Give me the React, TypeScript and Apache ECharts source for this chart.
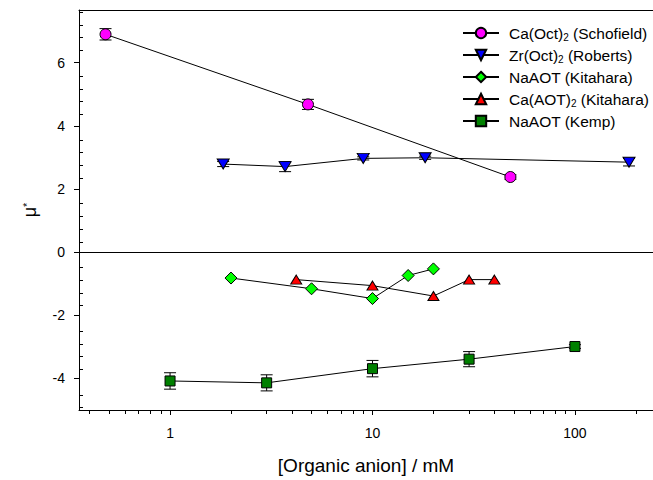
import React, { useEffect, useRef } from "react";
import * as echarts from "echarts";

// ---- data ----
const schofieldX = [0.48, 4.8, 48];
const schofieldY = [6.9, 4.68, 2.38];
const schofieldErr = [0.18, 0.16, 0.07];

const robertsX = [1.83, 3.7, 9.0, 18.2, 185];
const robertsY = [2.79, 2.71, 2.97, 2.99, 2.85];
const robertsErr = [0.08, 0.16, 0.05, 0.05, 0.12];

const kitaharaNaX = [2, 5, 10, 15, 20];
const kitaharaNaY = [-0.82, -1.16, -1.47, -0.74, -0.53];

const kitaharaCaX = [4.2, 10, 20, 30, 40];
const kitaharaCaY = [-0.87, -1.06, -1.39, -0.87, -0.87];

const kempX = [1, 3, 10, 30, 100];
const kempY = [-4.08, -4.14, -3.69, -3.39, -2.99];
const kempErr = [0.26, 0.255, 0.26, 0.24, 0.06];

const seriesNames = [
  "Ca(Oct)2 (Schofield)",
  "Zr(Oct)2 (Roberts)",
  "NaAOT (Kitahara)",
  "Ca(AOT)2 (Kitahara)",
  "NaAOT (Kemp)",
];

const xMajorTicks = [1, 10, 100];
const xMinorTicks = [0.4, 0.5, 0.6, 0.7, 0.8, 0.9, 2, 3, 4, 5, 6, 7, 8, 9, 20, 30, 40, 50, 60, 70, 80, 90, 200];
const yMajorTicks = [-4, -2, 0, 2, 4, 6];
const yMinorTicks = [-4.8, -4.4, -3.6, -3.2, -2.8, -2.4, -1.6, -1.2, -0.8, -0.4, 0.4, 0.8, 1.2, 1.6, 2.4, 2.8, 3.2, 3.6, 4.4, 4.8, 5.2, 5.6, 6.4, 6.8, 7.2, 7.6];

const X_MIN = 0.355;
const X_MAX = 243;
const Y_MIN = -5;
const Y_MAX = 7.67;

const FONT = "Liberation Sans";

const zip = (xs: number[], ys: number[]) => xs.map((x, i) => [x, ys[i]]);
const errData = (xs: number[], ys: number[], es: number[]) =>
  xs.map((x, i) => [x, ys[i] - es[i], ys[i] + es[i]]);

const GRID = { left: 79, top: 10, right: 0, bottom: 66 };

export default function App() {
  const ref = useRef<HTMLDivElement>(null);
  useEffect(() => {
    if (!ref.current) return;
    const chart = echarts.init(ref.current, undefined, { renderer: "svg" });

    const lineSeries = (
      name: string,
      data: number[][],
      symbol: string,
      size: number | number[],
      color: string
    ) => ({
      name,
      type: "line",
      xAxisIndex: 0,
      yAxisIndex: 0,
      data,
      symbol,
      symbolSize: size,
      showAllSymbol: true,
      z: 3,
      lineStyle: { color: "#000", width: 1 },
      itemStyle: { color, borderColor: "#000", borderWidth: 1 },
      emphasis: { disabled: true },
    });

    const errorSeries = {
      name: "errors",
      type: "custom",
      xAxisIndex: 0,
      yAxisIndex: 0,
      z: 2,
      silent: true,
      encode: { x: 0, y: [1, 2] },
      data: [
        ...errData(schofieldX, schofieldY, schofieldErr),
        ...errData(robertsX, robertsY, robertsErr),
        ...errData(kempX, kempY, kempErr),
      ],
      renderItem: (params: any, api: any) => {
        const x = api.value(0);
        const lo = api.coord([x, api.value(1)]);
        const hi = api.coord([x, api.value(2)]);
        const w = 6;
        const st = { stroke: "#000", lineWidth: 1 };
        return {
          type: "group",
          children: [
            { type: "line", shape: { x1: lo[0], y1: lo[1], x2: hi[0], y2: hi[1] }, style: st },
            { type: "line", shape: { x1: lo[0] - w, y1: lo[1], x2: lo[0] + w, y2: lo[1] }, style: st },
            { type: "line", shape: { x1: hi[0] - w, y1: hi[1], x2: hi[0] + w, y2: hi[1] }, style: st },
          ],
        };
      },
    };

    const axisLineStyle = { color: "#000", width: 1 };

    const option: any = {
      animation: false,
      textStyle: { fontFamily: FONT, color: "#000" },
      grid: [
        { ...GRID },
        { ...GRID },
      ],
      legend: {
        orient: "vertical",
        left: 462,
        top: 24,
        padding: 0,
        itemWidth: 36,
        itemHeight: 13,
        itemGap: 4,
        data: seriesNames,
        selectedMode: false,
        textStyle: {
          fontFamily: FONT,
          fontSize: 15.5,
          color: "#000",
          lineHeight: 18,
          padding: [0, 0, 0, 5],
          rich: {
            s: { fontFamily: FONT, fontSize: 10, lineHeight: 10, verticalAlign: "bottom", color: "#000" },
          },
        },
        formatter: (name: string) => name.replace(")2", "){s|2}"),
      },
      xAxis: [
        {
          gridIndex: 0,
          type: "log",
          position: "bottom",
          min: X_MIN,
          max: X_MAX,
          axisLine: { show: true, onZero: false, lineStyle: axisLineStyle },
          axisTick: { show: true, inside: false, length: 5, customValues: xMajorTicks, lineStyle: axisLineStyle },
          axisLabel: { customValues: xMajorTicks, fontSize: 14, margin: 16, color: "#000", fontFamily: FONT },
          splitLine: { show: false },
          minorTick: { show: false },
          name: "[Organic anion] / mM",
          nameLocation: "middle",
          nameGap: 46,
          nameTextStyle: { fontSize: 19, color: "#000", fontFamily: FONT },
        },
        {
          gridIndex: 0,
          type: "log",
          position: "top",
          min: X_MIN,
          max: X_MAX,
          axisLine: { show: true, onZero: false, lineStyle: axisLineStyle },
          axisTick: { show: false },
          axisLabel: { show: false },
          splitLine: { show: false },
        },
        {
          gridIndex: 1,
          type: "log",
          position: "bottom",
          min: X_MIN,
          max: X_MAX,
          axisLine: { show: false, onZero: false },
          axisTick: { show: true, inside: true, length: 4, customValues: xMinorTicks, lineStyle: axisLineStyle },
          axisLabel: { show: false },
          splitLine: { show: false },
        },
      ],
      yAxis: [
        {
          gridIndex: 0,
          type: "value",
          position: "left",
          min: Y_MIN,
          max: Y_MAX,
          axisLine: { show: true, onZero: false, lineStyle: axisLineStyle },
          axisTick: { show: true, inside: false, length: 5, customValues: yMajorTicks, lineStyle: axisLineStyle },
          axisLabel: { customValues: yMajorTicks, fontSize: 14, margin: 14, color: "#000", fontFamily: FONT },
          splitLine: { show: false },
          name: "μ{s|*}",
          nameLocation: "middle",
          nameGap: 40,
          nameTextStyle: {
            fontSize: 18,
            color: "#000",
            fontFamily: FONT,
            rich: { s: { fontSize: 11, fontFamily: FONT, verticalAlign: "top", lineHeight: 11, color: "#000" } },
          },
        },
        {
          gridIndex: 1,
          type: "value",
          position: "left",
          min: Y_MIN,
          max: Y_MAX,
          axisLine: { show: false, onZero: false },
          axisTick: { show: true, inside: true, length: 4, customValues: yMinorTicks, lineStyle: axisLineStyle },
          axisLabel: { show: false },
          splitLine: { show: false },
        },
      ],
      series: [
        errorSeries,
        {
          ...lineSeries(seriesNames[0], zip(schofieldX, schofieldY), "circle", 11, "#ff00ff"),
          markLine: {
            silent: true,
            symbol: "none",
            label: { show: false },
            lineStyle: { color: "#000", width: 1, type: "solid" },
            data: [{ yAxis: 0 }],
          },
        },
        lineSeries(seriesNames[1], zip(robertsX, robertsY), "path://M0,0 L2,0 L1,1.6 Z", [12, 10], "#0000ff"),
        lineSeries(seriesNames[2], zip(kitaharaNaX, kitaharaNaY), "diamond", 12, "#00ff00"),
        lineSeries(seriesNames[3], zip(kitaharaCaX, kitaharaCaY), "triangle", [11, 9], "#ff0000"),
        lineSeries(seriesNames[4], zip(kempX, kempY), "rect", 10, "#008000"),
      ],
    };

    chart.setOption(option);
    return () => chart.dispose();
  }, []);

  return (
    <div
      ref={ref}
      style={{ position: "absolute", left: 0, top: 0, width: 653, height: 480, background: "#fff" }}
    />
  );
}
